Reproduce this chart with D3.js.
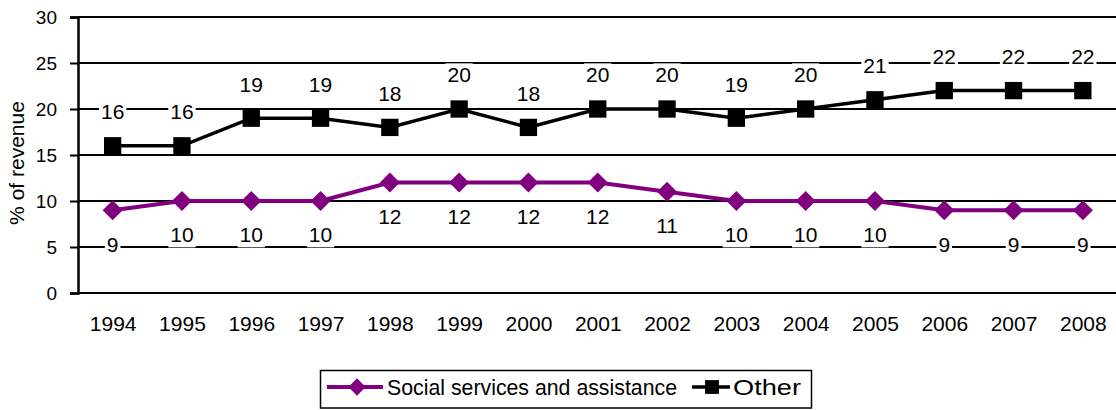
<!DOCTYPE html>
<html>
<head>
<meta charset="utf-8">
<script src="https://cdn.jsdelivr.net/npm/d3@7"></script>
<style>
  html, body { margin: 0; padding: 0; background: #fff; }
  svg { display: block; font-family: "Liberation Sans", Arial, sans-serif; }
</style>
</head>
<body>
<svg id="chart" width="1116" height="410"></svg>
<script>
// Share of revenue by year
const years = ["1994","1995","1996","1997","1998","1999","2000","2001","2002","2003","2004","2005","2006","2007","2008"];
const socialServices = [9,10,10,10,12,12,12,12,11,10,10,10,9,9,9];
const otherRevenue = [16,16,19,19,18,20,18,20,20,19,20,21,22,22,22];
const yTicks = [0,5,10,15,20,25,30];
const seriesNames = ["Social services and assistance", "Other"];
const yTitle = "% of revenue";

const FONT = "Liberation Sans, Arial, sans-serif";
const svg = d3.select("#chart");
const W = 1116;
const plot = { left: 78, right: 1117.5, top: 17, bottom: 293 };

const x = d3.scalePoint().domain(years).range([plot.left, plot.right]).padding(0.5);
const y = d3.scaleLinear().domain([0, 30]).range([plot.bottom, plot.top]);

// horizontal gridlines
svg.append("g").selectAll("line").data(yTicks).join("line")
  .attr("x1", plot.left).attr("x2", W)
  .attr("y1", d => y(d)).attr("y2", d => y(d))
  .attr("stroke", "#000").attr("stroke-width", 2);

// y axis
const yAxis = d3.axisLeft(y).tickValues(yTicks).tickSize(8).tickPadding(13);
const gy = svg.append("g").attr("transform", `translate(${plot.left},0)`).call(yAxis);
gy.select(".domain").attr("stroke", "#000").attr("stroke-width", 2.5);
gy.selectAll(".tick line").attr("stroke", "#000").attr("stroke-width", 2);
gy.selectAll(".tick text").attr("font-size", 19).attr("fill", "#000").attr("font-family", FONT);

// x axis labels
const xAxis = d3.axisBottom(x).tickSize(0).tickPadding(23);
const gx = svg.append("g").attr("transform", `translate(0,${plot.bottom})`).call(xAxis);
gx.select(".domain").remove();
gx.selectAll(".tick text").attr("font-size", 21).attr("fill", "#000").attr("font-family", FONT);

// y axis title
svg.append("text")
  .attr("transform", `translate(24,${(plot.top + plot.bottom) / 2 + 8}) rotate(-90)`)
  .attr("text-anchor", "middle")
  .attr("font-size", 21)
  .text(yTitle);

const PURPLE = "#800080";

// series lines
const line = d3.line().x((d, i) => x(years[i])).y(d => y(d));
svg.append("path").datum(socialServices).attr("d", line)
  .attr("fill", "none").attr("stroke", PURPLE).attr("stroke-width", 4);
svg.append("path").datum(otherRevenue).attr("d", line)
  .attr("fill", "none").attr("stroke", "#000").attr("stroke-width", 3.5);

// markers
svg.append("g").selectAll("path").data(socialServices).join("path")
  .attr("d", d3.symbol().type(d3.symbolSquare).size(200))
  .attr("transform", (d, i) => `translate(${x(years[i])},${y(d)}) rotate(45)`)
  .attr("fill", PURPLE);
svg.append("g").selectAll("path").data(otherRevenue).join("path")
  .attr("d", d3.symbol().type(d3.symbolSquare).size(300))
  .attr("transform", (d, i) => `translate(${x(years[i])},${y(d)})`)
  .attr("fill", "#000");

// data labels with white backing boxes
function addLabels(values, dy) {
  const g = svg.append("g");
  values.forEach((v, i) => {
    const lg = g.append("g");
    const t = lg.append("text")
      .attr("x", x(years[i]))
      .attr("y", y(v) + dy)
      .attr("dy", "0.35em")
      .attr("text-anchor", "middle")
      .attr("font-size", 21)
      .text(v);
    const b = t.node().getBBox();
    lg.insert("rect", "text")
      .attr("x", b.x - 2).attr("y", b.y)
      .attr("width", b.width + 4).attr("height", b.height + 1)
      .attr("fill", "#fff");
  });
}
addLabels(otherRevenue, -34);
addLabels(socialServices, 34);

// legend
const lg = svg.append("g");
lg.append("rect").attr("x", 320.5).attr("y", 370.5).attr("width", 491).attr("height", 37.5)
  .attr("fill", "#fff").attr("stroke", "#000").attr("stroke-width", 1.5);
const ly = 387;
lg.append("line").attr("x1", 327).attr("x2", 383).attr("y1", ly).attr("y2", ly)
  .attr("stroke", PURPLE).attr("stroke-width", 4);
lg.append("path").attr("d", d3.symbol().type(d3.symbolSquare).size(150))
  .attr("transform", `translate(357,${ly}) rotate(45)`).attr("fill", PURPLE);
lg.append("text").attr("x", 387).attr("y", ly).attr("dy", "0.35em")
  .attr("font-size", 22).attr("textLength", 290).attr("lengthAdjust", "spacingAndGlyphs")
  .text(seriesNames[0]);
lg.append("line").attr("x1", 692).attr("x2", 730).attr("y1", ly).attr("y2", ly)
  .attr("stroke", "#000").attr("stroke-width", 3.5);
lg.append("path").attr("d", d3.symbol().type(d3.symbolSquare).size(190))
  .attr("transform", `translate(712,${ly})`).attr("fill", "#000");
lg.append("text").attr("x", 733).attr("y", ly).attr("dy", "0.35em")
  .attr("font-size", 22).attr("textLength", 68).attr("lengthAdjust", "spacingAndGlyphs")
  .text(seriesNames[1]);
</script>
</body>
</html>
